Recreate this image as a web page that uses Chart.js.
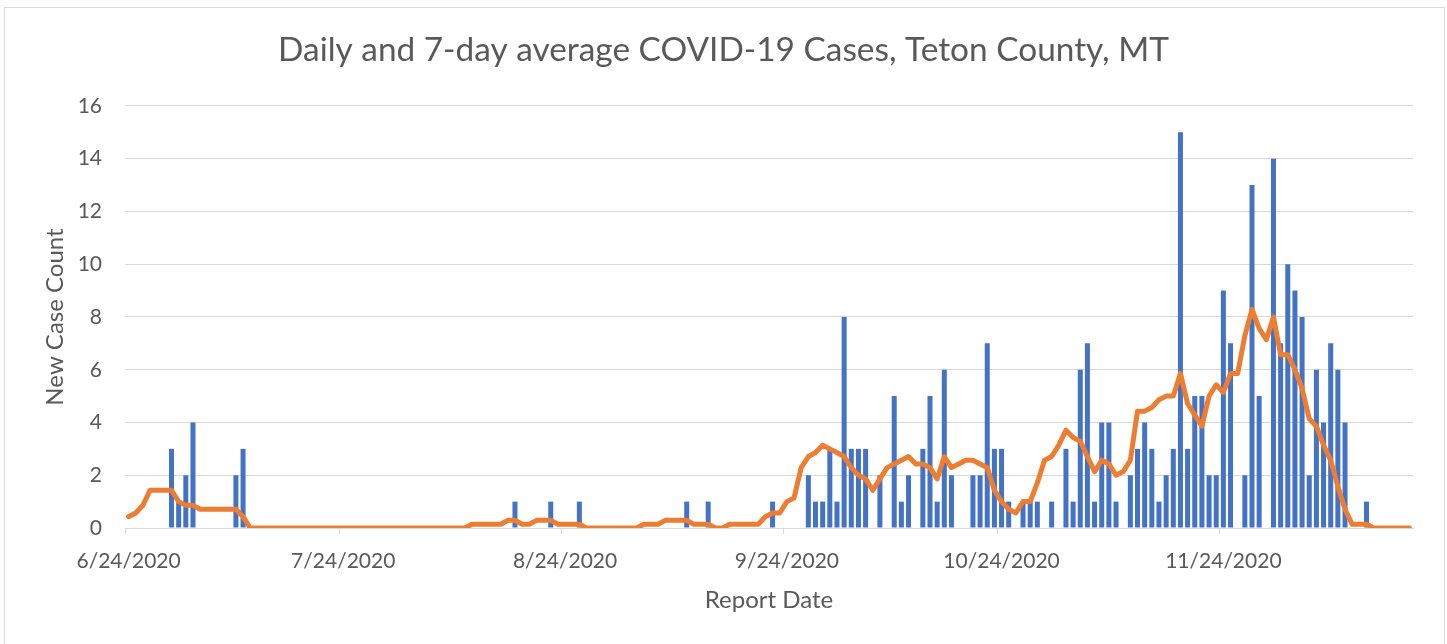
<!DOCTYPE html>
<html>
<head>
<meta charset="utf-8">
<title>Teton County COVID-19</title>
<script src="https://cdn.jsdelivr.net/npm/chart.js@4.4.1/dist/chart.umd.min.js"></script>
<style>
  body { margin: 0; background: #fff; overflow: hidden; }
  #frame { position: absolute; left: 4px; top: 7px; width: 1439px; height: 700px; border: 1px solid #d9d9d9; }
  #myChart { position: absolute; left: 0; top: 0; }
</style>
</head>
<body>
<div id="frame"></div>
<canvas id="myChart" width="1447" height="644"></canvas>
<script>
// one category per report day, starting 6/24/2020
const startDate = new Date(2020, 5, 24);
const dayCount = 180;
const tickLabels = ["6/24/2020", "7/24/2020", "8/24/2020", "9/24/2020", "10/24/2020", "11/24/2020"];

// daily new cases
const dailyCases = [
  0, 0, 0, 0, 0, 0, 3, 1, 2, 4,
  0, 0, 0, 0, 0, 2, 3, 0, 0, 0,
  0, 0, 0, 0, 0, 0, 0, 0, 0, 0,
  0, 0, 0, 0, 0, 0, 0, 0, 0, 0,
  0, 0, 0, 0, 0, 0, 0, 0, 0, 0,
  0, 0, 0, 0, 1, 0, 0, 0, 0, 1,
  0, 0, 0, 1, 0, 0, 0, 0, 0, 0,
  0, 0, 0, 0, 0, 0, 0, 0, 1, 0,
  0, 1, 0, 0, 0, 0, 0, 0, 0, 0,
  1, 0, 0, 0, 0, 2, 1, 1, 3, 1,
  8, 3, 3, 3, 0, 2, 0, 5, 1, 2,
  0, 3, 5, 1, 6, 2, 0, 0, 2, 2,
  7, 3, 3, 1, 0, 1, 1, 1, 0, 1,
  0, 3, 1, 6, 7, 1, 4, 4, 1, 0,
  2, 3, 4, 3, 1, 2, 3, 15, 3, 5,
  5, 2, 2, 9, 7, 0, 2, 13, 5, 0,
  14, 7, 10, 9, 8, 2, 6, 4, 7, 6,
  4, 0, 0, 1, 0, 0, 0, 0, 0, 0
];

// 7-day average
const avgCases = [
  0.43, 0.57, 0.86, 1.43, 1.43, 1.43, 1.43, 1, 0.86, 0.86,
  0.71, 0.71, 0.71, 0.71, 0.71, 0.71, 0.43, 0, 0, 0,
  0, 0, 0, 0, 0, 0, 0, 0, 0, 0,
  0, 0, 0, 0, 0, 0, 0, 0, 0, 0,
  0, 0, 0, 0, 0, 0, 0, 0, 0.14, 0.14,
  0.14, 0.14, 0.14, 0.29, 0.29, 0.14, 0.14, 0.29, 0.29, 0.29,
  0.14, 0.14, 0.14, 0.14, 0, 0, 0, 0, 0, 0,
  0, 0, 0.14, 0.14, 0.14, 0.29, 0.29, 0.29, 0.29, 0.14,
  0.14, 0.14, 0, 0, 0.14, 0.14, 0.14, 0.14, 0.14, 0.43,
  0.57, 0.57, 1, 1.14, 2.29, 2.71, 2.86, 3.14, 3, 2.86,
  2.71, 2.29, 2, 1.86, 1.43, 1.86, 2.29, 2.43, 2.57, 2.71,
  2.43, 2.43, 2.29, 1.86, 2.71, 2.29, 2.43, 2.57, 2.57, 2.43,
  2.29, 1.43, 1, 0.71, 0.57, 1, 1, 1.71, 2.57, 2.71,
  3.14, 3.71, 3.43, 3.29, 2.71, 2.14, 2.57, 2.43, 2, 2.14,
  2.57, 4.43, 4.43, 4.57, 4.86, 5, 5, 5.86, 4.71, 4.29,
  3.86, 5, 5.43, 5.14, 5.86, 5.86, 7.29, 8.29, 7.57, 7.14,
  8, 6.57, 6.57, 6, 5.29, 4.14, 3.86, 3.14, 2.57, 1.57,
  0.71, 0.14, 0.14, 0.14, 0, 0, 0, 0, 0, 0
];

let dates = [];
for (let i = 0; i < dayCount; i++) {
  let d = new Date(startDate.getFullYear(), startDate.getMonth(), startDate.getDate() + i);
  dates.push((d.getMonth() + 1) + "/" + d.getDate() + "/" + d.getFullYear());
}

Chart.defaults.font.family = "Lato, 'Open Sans', sans-serif";
Chart.defaults.color = "#595959";

var ctx = document.getElementById("myChart").getContext("2d");
var myChart = new Chart(ctx, {
  type: "bar",
  data: {
    labels: dates,
    datasets: [
      {
        type: "line",
        label: "7-day average",
        data: avgCases,
        borderColor: "#ED7D31",
        borderWidth: 5,
        borderJoinStyle: "round",
        borderCapStyle: "round",
        pointRadius: 0,
        tension: 0,
        order: 0,
      },
      {
        label: "Daily cases",
        data: dailyCases,
        backgroundColor: "#4472C4",
        categoryPercentage: 1,
        barPercentage: 0.7,
        order: 1,
      },
    ],
  },
  options: {
    responsive: false,
    animation: false,
    devicePixelRatio: 1,
    // equal side padding keeps the title centred on the whole picture
    layout: { padding: { left: 34, right: 34, top: 0, bottom: 0 } },
    plugins: {
      legend: { display: false },
      tooltip: { enabled: false },
      title: {
        display: true,
        text: "Daily and 7-day average COVID-19 Cases, Teton County, MT",
        color: "#595959",
        font: { size: 33.4, weight: "normal", lineHeight: 1.2 },
        padding: { top: 30, bottom: 35.9 },
      },
    },
    scales: {
      x: {
        afterFit: (scale) => { scale.height = 116; },
        grid: {
          offset: true,
          drawOnChartArea: false,
          drawTicks: true,
          tickLength: 6,
          color: (c) => (c.tick && tickLabels.includes(c.tick.label) ? "#d9d9d9" : "rgba(0,0,0,0)"),
        },
        border: { display: true, color: "#d9d9d9", width: 1 },
        ticks: {
          autoSkip: false,
          maxRotation: 0,
          minRotation: 0,
          padding: 15,
          font: { size: 21 },
          callback: function (value) {
            let lbl = this.getLabelForValue(value);
            return tickLabels.includes(lbl) ? lbl : "";
          },
        },
        title: {
          display: true,
          text: "Report Date",
          font: { size: 24, lineHeight: 1.2 },
          padding: { top: 0, bottom: 29.6 },
        },
      },
      y: {
        min: 0,
        max: 16,
        afterFit: (scale) => { scale.width = 91; },
        grid: { color: "#d9d9d9", lineWidth: 1, drawTicks: false },
        border: { display: false },
        ticks: { stepSize: 2, padding: 23, font: { size: 21 } },
        title: {
          display: true,
          text: "New Case Count",
          font: { size: 24, lineHeight: 1.2 },
          padding: { top: 6.6, bottom: 0 },
        },
      },
    },
  },
});
</script>
</body>
</html>
